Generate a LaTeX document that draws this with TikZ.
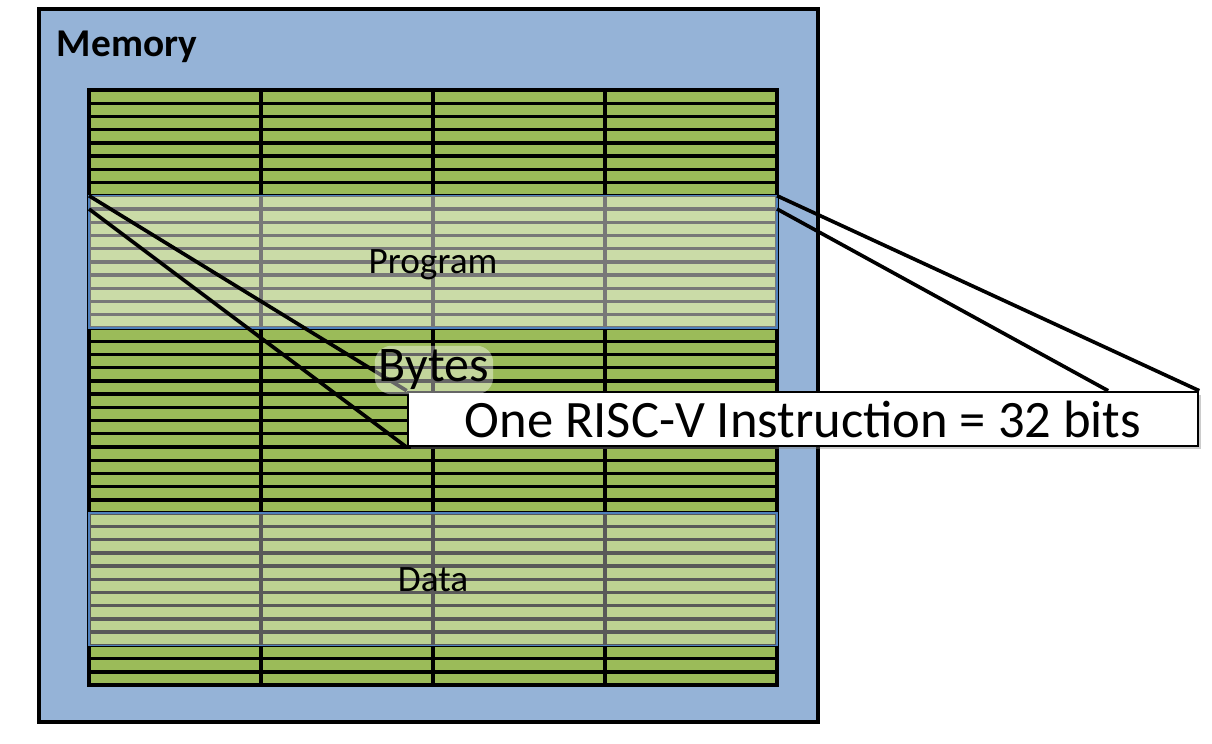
\documentclass[tikz,border=0pt]{standalone}
\usepackage{fontspec}
\setmainfont{Carlito}
\usetikzlibrary{positioning, calc, fit, shadows}

\definecolor{memblue}{HTML}{95B3D7}
\definecolor{bytegreen}{HTML}{9BBB59}
\definecolor{regionblue}{HTML}{4F81BD}

\begin{document}
\begin{tikzpicture}[
    cell/.style={draw, fill=bytegreen, line width=2.4pt, inner sep=0pt,
                 outer sep=0pt, minimum width=4.3cm, minimum height=0.3306cm},
    region/.style={draw=regionblue, line width=1pt, fill=white,
                   inner sep=0pt, outer sep=0pt},
    lbl/.style={font=\fontsize{26.5}{30}\selectfont},
    fan/.style={draw, line width=2.6pt},
    glow/.style={fill=white, fill opacity=0.4, text opacity=1,
                 rounded corners=12pt, inner sep=3pt}
  ]
  \useasboundingbox (0,0) rectangle (30.3,18.6);

  % Memory frame
  \node[draw, line width=3pt, fill=memblue, anchor=south west, inner sep=0pt,
        minimum width=19.475cm, minimum height=17.825cm] (mem) at (0.925,0.5) {};
  \node[font=\bfseries\fontsize{28}{32}\selectfont, anchor=base west]
    (memlbl) at (1.3,17.175) {Memory};

  % Bytes: 45 rows x 4 columns
  \foreach \r in {0,...,44} {
    \foreach \c in {0,...,3} {
      \node[cell] (b\r-\c) at (4.375+\c*4.3, 16.185-\r*0.3306) {};
    }
  }

  % Program and data regions
  \node[region, fill opacity=0.47, fit=(b8-0)(b17-3)] (program) {};
  \node[lbl] (proglbl) at ($(program.center)+(0,-0.08)$) {Program};
  \node[region, fill opacity=0.35, fit=(b32-0)(b41-3)] (data) {};
  \node[lbl] (datalbl) at (data.center) {Data};

  % Instruction callout
  \node[draw, line width=1.8pt, fill=white, inner sep=0pt,
        minimum width=19.75cm, minimum height=1.35cm,
        drop shadow={shadow xshift=2pt, shadow yshift=-2pt, opacity=0.4},
        font=\fontsize{37.4}{42}\selectfont] (instr) at (20.075,8.125)
    {One RISC-V Instruction = 32 bits};
  \coordinate (instrtop) at ($(instr.north west)!0.885!(instr.north east)$);

  \draw[fan] (program.north west) -- (instr.north west);
  \draw[fan] (b9-0.north west) -- (instr.south west);
  \draw[fan] (program.north east) -- (instr.north east);
  \draw[fan] (b9-3.north east) -- (instrtop);

  \node[glow, font=\fontsize{35.5}{40}\selectfont, anchor=base] (bytes)
    at (10.85,9.05) {Bytes};
\end{tikzpicture}
\end{document}
